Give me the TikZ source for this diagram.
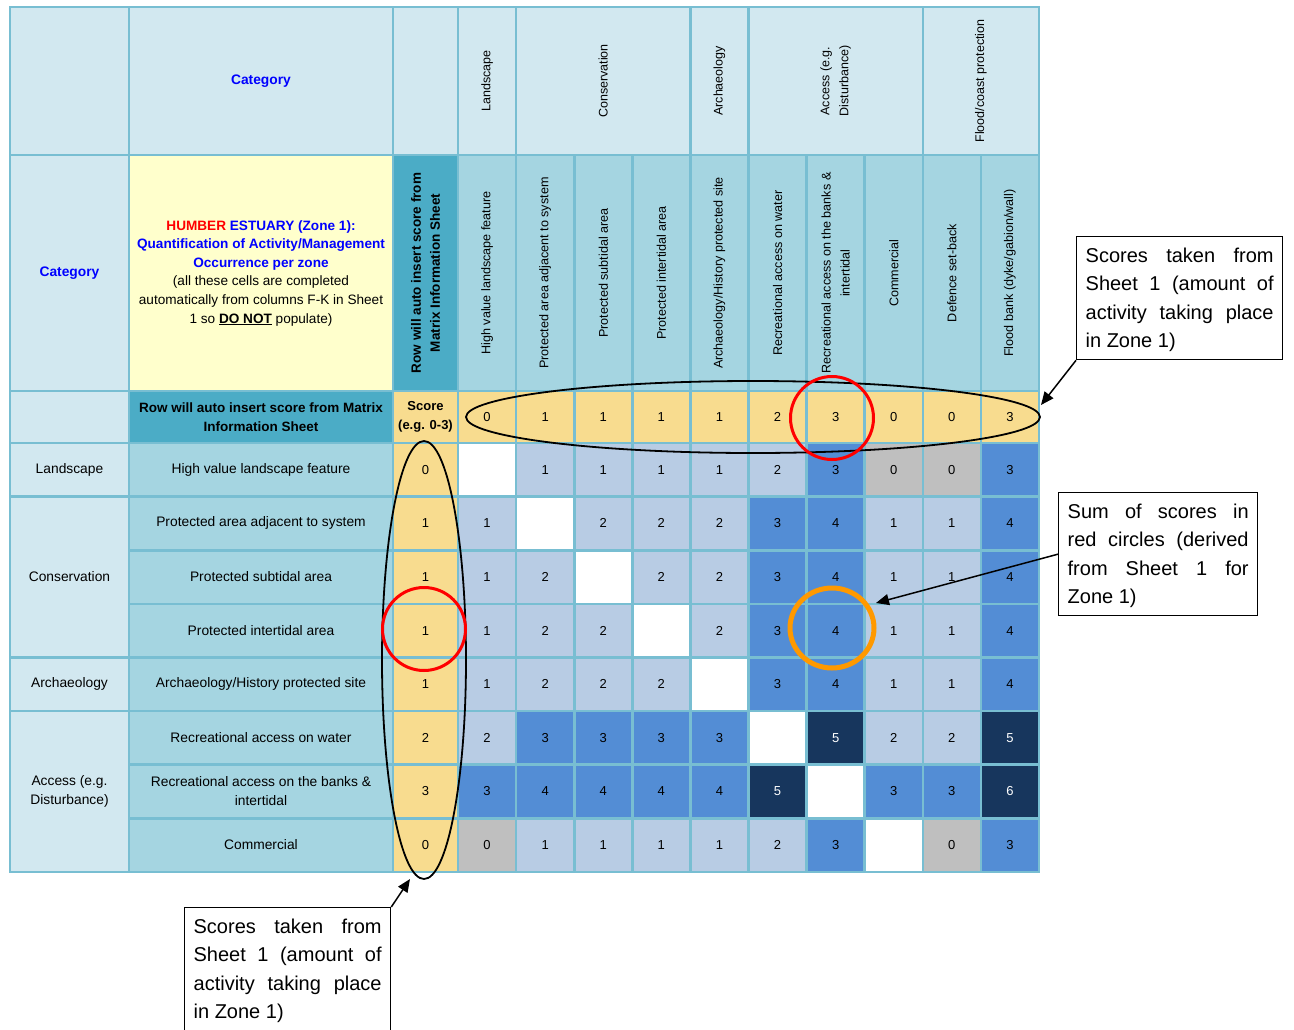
\documentclass[tikz,border=0pt]{standalone}
\usepackage{fontspec}
\setmainfont{Liberation Sans}
\usetikzlibrary{arrows.meta,shapes.geometric}
\definecolor{gridc}{HTML}{78BED2}
\definecolor{hdr}{HTML}{D2E8F0}
\definecolor{lbl}{HTML}{A5D5E1}
\definecolor{tealc}{HTML}{4BACC6}
\definecolor{yel}{HTML}{FFFFCC}
\definecolor{scr}{HTML}{F8DC8F}
\definecolor{cL}{HTML}{B8CCE4}
\definecolor{cM}{HTML}{538DD5}
\definecolor{cD}{HTML}{17365D}
\definecolor{cG}{HTML}{BFBFBF}
\definecolor{catblue}{HTML}{0000FF}
\definecolor{humred}{HTML}{FF0000}
\definecolor{orng}{HTML}{FF9900}
\newcommand\mycell[7]{\node[cellbox,#6,minimum width={(#4-#2)*1pt},minimum height={(#5-#3)*1pt}] (#1) at ({(#2+#4)/2},{(#3+#5)/2}) {#7};}
\newcommand\notestrut{\rule{0pt}{18pt}}
\begin{document}
\begin{tikzpicture}[x=1pt,y=-1pt,
  cellbox/.style={draw=gridc,line width=2.6pt,inner sep=0pt,anchor=center},
  htext/.style={align=center,font=\fontsize{13.8}{19}\selectfont},
  hbold/.style={align=center,font=\fontsize{13.5}{19}\selectfont\bfseries},
  catfont/.style={font=\fontsize{13.8}{16}\selectfont\bfseries,text=catblue},
  num/.style={font=\fontsize{13}{15}\selectfont},
  vhead/.style={rotate=90,align=center,inner sep=0pt,font=\fontsize{12.5}{19}\selectfont},
  vlab/.style={rotate=90,align=center,inner sep=0pt,font=\fontsize{12.6}{19}\selectfont},
  mW/.style={fill=white},mL/.style={fill=cL},mM/.style={fill=cM},
  mD/.style={fill=cD,text=white},mG/.style={fill=cG},
  ring/.style={ellipse,inner sep=0pt},
  note/.style={draw=black,line width=1.3pt,fill=white,inner xsep=9pt,inner ysep=8pt,
    align=justify,font=\fontsize{20}{28.3}\selectfont,anchor=north west},
  arr/.style={line width=1.5pt,-{Triangle[length=13pt,width=11pt]}}]
\useasboundingbox (0,0) rectangle (1294,1029);
\fill[white] (0,0) rectangle (1294,1029);
% header row 1
\mycell{h1a}{10}{7}{129}{155}{fill=hdr}{}
\mycell{h1b}{129}{7}{393}{155}{fill=hdr,catfont}{Category}
\mycell{h1c}{393}{7}{458}{155}{fill=hdr}{}
\mycell{g1}{458}{7}{516.1}{155}{fill=hdr}{}
\mycell{g2}{516.1}{7}{690.4}{155}{fill=hdr}{}
\mycell{g3}{690.4}{7}{748.5}{155}{fill=hdr}{}
\mycell{g4}{748.5}{7}{922.8}{155}{fill=hdr}{}
\mycell{g5}{922.8}{7}{1039}{155}{fill=hdr}{}
\node[vhead] (g1t) at (g1) {Landscape};
\node[vhead] (g2t) at (g2) {Conservation};
\node[vhead] (g3t) at (g3) {Archaeology};
\node[vhead] (g4t) at (g4) {Access (e.g.\\Disturbance)};
\node[vhead] (g5t) at (g5) {Flood/coast protection};
% header row 2
\mycell{h2a}{10}{155}{129}{391}{fill=hdr,catfont}{Category}
\mycell{h2b}{129}{155}{393}{391}{fill=yel,align=center,font=\fontsize{13.6}{18.6}\selectfont}{%
 \textbf{\textcolor{humred}{HUMBER} \textcolor{catblue}{ESTUARY (Zone 1):}}\\
 \textbf{\textcolor{catblue}{Quantification of Activity/Management}}\\
 \textbf{\textcolor{catblue}{Occurrence per zone}}\\
 (all these cells are completed\\
 automatically from columns F-K in Sheet\\
 1 so \underline{\textbf{DO NOT}} populate)}
\mycell{h2c}{393}{155}{458}{391}{fill=tealc}{}
\node[vhead,font=\fontsize{13.5}{19}\selectfont\bfseries] (h2ct) at (h2c) {Row will auto insert score from\\Matrix Information Sheet};
\foreach \t [count=\j] in {High value landscape feature,Protected area adjacent to system,
  Protected subtidal area,Protected intertidal area,Archaeology/History protected site,
  Recreational access on water,{Recreational access on the banks \&\\intertidal},
  Commercial,Defence set-back,Flood bank (dyke/gabion/wall)}{
  \pgfmathsetmacro\xa{458+58.1*(\j-1)}
  \pgfmathsetmacro\xb{458+58.1*\j}
  \mycell{ch\j}{\xa}{155}{\xb}{391}{fill=lbl}{}
  \node[vlab] (cht\j) at (ch\j) {\t};
}
% score row
\mycell{s0}{10}{391}{129}{443}{fill=hdr}{}
\mycell{s1}{129}{391}{393}{443}{fill=tealc,hbold}{Row will auto insert score from Matrix\\Information Sheet}
\mycell{s2}{393}{391}{458}{443}{fill=scr,hbold,font=\fontsize{13}{19}\selectfont\bfseries}{Score\\(e.g. 0-3)}
\foreach \v [count=\j] in {0,1,1,1,1,2,3,0,0,3}{
  \pgfmathsetmacro\xa{458+58.1*(\j-1)}
  \pgfmathsetmacro\xb{458+58.1*\j}
  \mycell{sv\j}{\xa}{391}{\xb}{443}{fill=scr,num}{\v}
}
% category column
\mycell{r1c}{10}{443}{129}{496.6}{fill=hdr,htext}{Landscape}
\mycell{r2c}{10}{496.6}{129}{657.4}{fill=hdr,htext}{Conservation}
\mycell{r5c}{10}{657.4}{129}{711}{fill=hdr,htext}{Archaeology}
\mycell{r6c}{10}{711}{129}{871.8}{fill=hdr,htext}{Access (e.g.\\Disturbance)}
% row labels
\mycell{r1l}{129}{443}{393}{496.6}{fill=lbl,htext}{High value landscape feature}
\mycell{r2l}{129}{496.6}{393}{550.2}{fill=lbl,htext}{Protected area adjacent to system}
\mycell{r3l}{129}{550.2}{393}{603.8}{fill=lbl,htext}{Protected subtidal area}
\mycell{r4l}{129}{603.8}{393}{657.4}{fill=lbl,htext}{Protected intertidal area}
\mycell{r5l}{129}{657.4}{393}{711}{fill=lbl,htext}{Archaeology/History protected site}
\mycell{r6l}{129}{711}{393}{764.6}{fill=lbl,htext}{Recreational access on water}
\mycell{r7l}{129}{764.6}{393}{818.2}{fill=lbl,htext}{Recreational access on the banks \&\\intertidal}
\mycell{r8l}{129}{818.2}{393}{871.8}{fill=lbl,htext}{Commercial}
% score column
\foreach \v [count=\i] in {0,1,1,1,1,2,3,0}{
  \pgfmathsetmacro\ya{443+53.6*(\i-1)}
  \pgfmathsetmacro\yb{443+53.6*\i}
  \mycell{rs\i}{393}{\ya}{458}{\yb}{fill=scr,num}{\v}
}
% matrix
\foreach \row [count=\i] in {
 {mW/{},mL/1,mL/1,mL/1,mL/1,mL/2,mM/3,mG/0,mG/0,mM/3},
 {mL/1,mW/{},mL/2,mL/2,mL/2,mM/3,mM/4,mL/1,mL/1,mM/4},
 {mL/1,mL/2,mW/{},mL/2,mL/2,mM/3,mM/4,mL/1,mL/1,mM/4},
 {mL/1,mL/2,mL/2,mW/{},mL/2,mM/3,mM/4,mL/1,mL/1,mM/4},
 {mL/1,mL/2,mL/2,mL/2,mW/{},mM/3,mM/4,mL/1,mL/1,mM/4},
 {mL/2,mM/3,mM/3,mM/3,mM/3,mW/{},mD/5,mL/2,mL/2,mD/5},
 {mM/3,mM/4,mM/4,mM/4,mM/4,mD/5,mW/{},mM/3,mM/3,mD/6},
 {mG/0,mL/1,mL/1,mL/1,mL/1,mL/2,mM/3,mW/{},mG/0,mM/3}}{
  \foreach \mc/\mv [count=\j] in \row {
    \pgfmathsetmacro\xa{458+58.1*(\j-1)}
    \pgfmathsetmacro\ya{443+53.6*(\i-1)}
    \node[cellbox,\mc,num,minimum width=58.1pt,minimum height=53.6pt] (m\i-\j) at ({\xa+29.05},{\ya+26.8}) {\mv};
  }
}
% ellipses and circles
\node[ring,draw=black,line width=1.8pt,minimum width=574pt,minimum height=72pt] (e1) at (753,417) {};
\node[ring,draw=black,line width=1.8pt,minimum width=84pt,minimum height=438pt] (e2) at (424,660) {};
\node[ring,draw=humred,line width=3pt,minimum width=83pt,minimum height=83pt] (c1) at (832,418) {};
\node[ring,draw=humred,line width=3pt,minimum width=83pt,minimum height=83pt] (c2) at (424,629) {};
\node[ring,draw=orng,line width=5pt,minimum width=84pt,minimum height=80pt] (c3) at (832,628) {};
% notes
\node[note,text width=188pt] (n1) at (1076,236) {\notestrut Scores taken from\linebreak Sheet 1 (amount of\linebreak activity taking place\linebreak in Zone 1)};
\node[note,text width=181pt] (n2) at (1058,492) {\notestrut Sum of scores in\linebreak red circles (derived\linebreak from Sheet 1 for\linebreak Zone 1)};
\node[note,text width=188pt] (n3) at (184,907) {\notestrut Scores taken from\linebreak Sheet 1 (amount of\linebreak activity taking place\linebreak in Zone 1)};
\coordinate (t1) at (1041,405);
\coordinate (t2) at (876,603);
\coordinate (t3) at (410,879);
\draw[arr] (n1.south west) -- (t1);
\draw[arr] (n2.west) -- (t2);
\draw[arr] (n3.north east) -- (t3);
\end{tikzpicture}
\end{document}
